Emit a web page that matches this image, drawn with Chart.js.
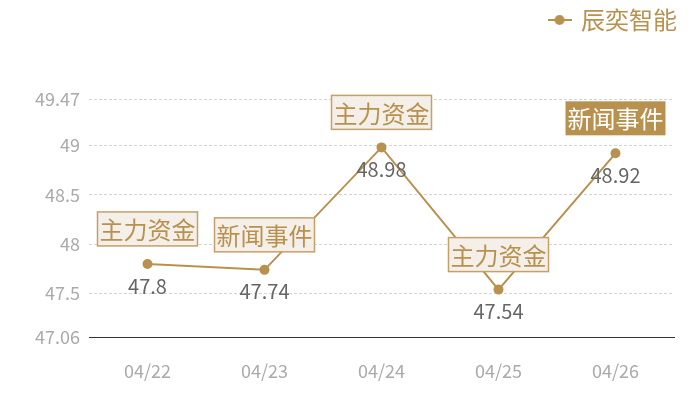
<!DOCTYPE html>
<html>
<head>
<meta charset="utf-8">
<script src="https://cdn.jsdelivr.net/npm/chart.js@4"></script>
<style>
  html, body { margin: 0; padding: 0; background: #fff; }
  #wrap { width: 700px; height: 400px; }
</style>
</head>
<body>
<div id="wrap"><canvas id="chart"></canvas></div>
<script>
const days = ['04/22', '04/23', '04/24', '04/25', '04/26'];
const prices = [47.8, 47.74, 48.98, 47.54, 48.92];
const eventTags = ['主力资金', '新闻事件', '主力资金', '主力资金', '新闻事件'];
const tagFilled = [false, false, false, false, true];
const yTicks = [47.06, 47.5, 48, 48.5, 49, 49.47];
const seriesName = '辰奕智能';

const GOLD = '#b8914f';
const FONT = "'Noto Sans CJK SC', 'Noto Sans', sans-serif";

// legend marker: short line with a dot
function legendMarker(){
  const c = document.createElement('canvas');
  c.width = 24; c.height = 12;
  const g = c.getContext('2d');
  g.strokeStyle = GOLD; g.lineWidth = 2;
  g.beginPath(); g.moveTo(0, 6); g.lineTo(24, 6); g.stroke();
  g.fillStyle = GOLD;
  g.beginPath(); g.arc(12, 6, 5, 0, Math.PI * 2); g.fill();
  return c;
}

// leave room between legend and plot, and push legend to the right edge
const legendGap = {
  id: 'legendGap',
  beforeInit(chart){
    const fit = chart.legend.fit;
    chart.legend.fit = function(){
      fit.call(this);
      this.height += 57;
    };
  },
  afterLayout(chart){
    chart.legend.left += 7;
    chart.legend.right += 7;
  }
};

const labelPlugin = {
  id: 'pointLabels',
  afterDatasetsDraw(chart){
    const ctx = chart.ctx;
    const meta = chart.getDatasetMeta(0);
    ctx.save();
    meta.data.forEach((pt, i) => {
      // value under the point
      ctx.font = '20px ' + FONT;
      ctx.fillStyle = '#666';
      ctx.textAlign = 'center';
      ctx.textBaseline = 'middle';
      ctx.fillText(String(prices[i]), pt.x, pt.y + 22);

      // event tag above the point
      const w = 100, h = 34;
      const bx = pt.x - w / 2, by = pt.y - 18 - h;
      if (tagFilled[i]){
        ctx.fillStyle = GOLD;
        ctx.fillRect(bx, by, w, h);
        ctx.fillStyle = '#fff';
      } else {
        ctx.fillStyle = '#f4efe8';
        ctx.fillRect(bx, by, w, h);
        ctx.strokeStyle = '#c4a06a';
        ctx.lineWidth = 1.5;
        ctx.strokeRect(bx, by, w, h);
        ctx.fillStyle = GOLD;
      }
      ctx.font = '24px ' + FONT;
      ctx.fillText(eventTags[i], pt.x, by + h / 2 + 1);
    });
    ctx.restore();
  }
};

new Chart(document.getElementById('chart'), {
  type: 'line',
  data: {
    labels: days,
    datasets: [{
      label: seriesName,
      data: prices,
      borderColor: GOLD,
      backgroundColor: GOLD,
      borderWidth: 2,
      pointRadius: 4,
      pointHoverRadius: 4,
      pointStyle: 'circle',
      tension: 0,
    }]
  },
  options: {
    responsive: true,
    maintainAspectRatio: false,
    animation: false,
    layout: { padding: { left: 0, right: 26, top: 4, bottom: 0 } },
    plugins: {
      tooltip: { enabled: false },
      legend: {
        position: 'top',
        align: 'end',
        labels: {
          usePointStyle: true,
          pointStyleWidth: 19,
          color: GOLD,
          font: { size: 24, family: FONT },
          padding: 4,
          generateLabels: () => [{
            text: seriesName,
            fontColor: GOLD,
            pointStyle: legendMarker(),
            datasetIndex: 0,
          }]
        }
      }
    },
    scales: {
      x: {
        offset: true,
        grid: { display: false, drawTicks: false },
        border: { display: true, color: '#333', width: 1 },
        ticks: { color: '#aaa', font: { size: 18, family: FONT }, padding: 23 },
        afterFit(scale){ scale.height = 63; }
      },
      y: {
        min: 47.06,
        max: 49.47,
        afterBuildTicks(scale){ scale.ticks = yTicks.map(v => ({ value: v })); },
        afterFit(scale){ scale.width = 89; },
        grid: { color: '#d4d4d4', drawTicks: false, tickLength: 0 },
        border: { display: false, dash: [3, 2] },
        ticks: {
          color: '#aaa',
          font: { size: 18, family: FONT },
          padding: 9,
          callback: v => String(v)
        }
      }
    }
  },
  plugins: [legendGap, labelPlugin]
});
</script>
</body>
</html>
